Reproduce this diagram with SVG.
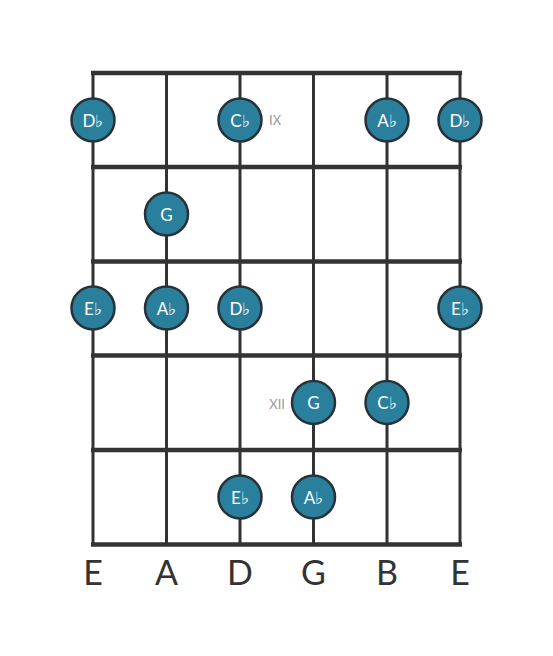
<svg xmlns="http://www.w3.org/2000/svg" width="553" height="656" viewBox="0 0 553 656">
<style>
.s{stroke:#333;stroke-width:3;fill:none}
.f{stroke:#333;stroke-width:4.5;fill:none}
.n circle{fill:#2a7f9c;stroke:#263238;stroke-width:2.5}
.n text{fill:#fff;font-family:Lato,"Open Sans",sans-serif;font-size:17px;text-anchor:middle;dominant-baseline:central}
.lb{fill:#333;font-family:Lato,"Open Sans",sans-serif;font-size:34px;text-anchor:middle}
.pos{fill:#999;font-family:Lato,"Open Sans",sans-serif;font-size:13px;dominant-baseline:central}
</style>
<rect width="553" height="656" fill="#fff"/>
<g id="grid">
<line class="s" x1="93" y1="73" x2="93" y2="544"/>
<line class="s" x1="166.5" y1="73" x2="166.5" y2="544"/>
<line class="s" x1="240" y1="73" x2="240" y2="544"/>
<line class="s" x1="313.5" y1="73" x2="313.5" y2="544"/>
<line class="s" x1="387" y1="73" x2="387" y2="544"/>
<line class="s" x1="460" y1="73" x2="460" y2="544"/>
<line class="f" x1="91" y1="73" x2="462" y2="73"/>
<line class="f" x1="91" y1="167" x2="462" y2="167"/>
<line class="f" x1="91" y1="261.5" x2="462" y2="261.5"/>
<line class="f" x1="91" y1="355.5" x2="462" y2="355.5"/>
<line class="f" x1="91" y1="450" x2="462" y2="450"/>
<line class="f" x1="91" y1="544.5" x2="462" y2="544.5"/>
</g>
<g id="n1" class="n"><circle cx="93" cy="120" r="21.5"/><text x="93" y="120">D♭</text></g>
<g id="n2" class="n"><circle cx="240" cy="120" r="21.5"/><text x="240" y="120">C♭</text></g>
<g id="n3" class="n"><circle cx="387" cy="120" r="21.5"/><text x="387" y="120">A♭</text></g>
<g id="n4" class="n"><circle cx="460" cy="120" r="21.5"/><text x="460" y="120">D♭</text></g>
<g id="n5" class="n"><circle cx="166.5" cy="214" r="21.5"/><text x="166.5" y="214">G</text></g>
<g id="n6" class="n"><circle cx="93" cy="308" r="21.5"/><text x="93" y="308">E♭</text></g>
<g id="n7" class="n"><circle cx="166.5" cy="308" r="21.5"/><text x="166.5" y="308">A♭</text></g>
<g id="n8" class="n"><circle cx="240" cy="308" r="21.5"/><text x="240" y="308">D♭</text></g>
<g id="n9" class="n"><circle cx="460" cy="308" r="21.5"/><text x="460" y="308">E♭</text></g>
<g id="n10" class="n"><circle cx="313.5" cy="402.5" r="21.5"/><text x="313.5" y="402.5">G</text></g>
<g id="n11" class="n"><circle cx="387" cy="402.5" r="21.5"/><text x="387" y="402.5">C♭</text></g>
<g id="n12" class="n"><circle cx="240" cy="497" r="21.5"/><text x="240" y="497">E♭</text></g>
<g id="n13" class="n"><circle cx="313.5" cy="497" r="21.5"/><text x="313.5" y="497">A♭</text></g>
<text class="pos" x="269" y="120">IX</text>
<text class="pos" x="285" y="404" text-anchor="end">XII</text>
<g id="labels">
<text class="lb" x="93" y="585">E</text>
<text class="lb" x="166.5" y="585">A</text>
<text class="lb" x="240" y="585">D</text>
<text class="lb" x="313.5" y="585">G</text>
<text class="lb" x="387" y="585">B</text>
<text class="lb" x="460" y="585">E</text>
</g>
</svg>
